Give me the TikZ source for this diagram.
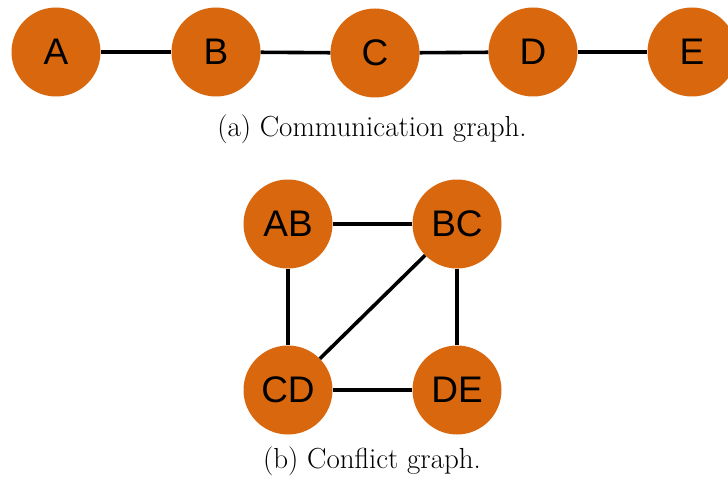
\documentclass[tikz,border=0pt]{standalone}
\usepackage{fontspec}
\usepackage{tikz}
\newfontfamily\lblfont{Liberation Sans}
\definecolor{vorange}{RGB}{217,103,14}
\tikzset{
  vertex/.style={circle,fill=vorange,minimum size=89pt,inner sep=0pt,
    font=\lblfont\fontsize{37}{40}\selectfont},
  edge/.style={line width=3.6pt,black},
  caption/.style={anchor=base,font=\fontsize{29}{32}\selectfont}
}

\begin{document}
\begin{tikzpicture}[x=1pt,y=1pt]
  \useasboundingbox (0,0) rectangle (728,483);
  % communication graph
  \node[vertex] (A) at ( 56,431) {A};
  \node[vertex] (B) at (216,431) {B};
  \node[vertex] (C) at (375,430) {C};
  \node[vertex] (D) at (533,431) {D};
  \node[vertex] (E) at (692,431) {E};
  \draw[edge] (A) -- (B);
  \draw[edge] (B) -- (C);
  \draw[edge] (C) -- (D);
  \draw[edge] (D) -- (E);
  \node[caption] (capa) at (372,346) {(a) Communication graph.};
  % conflict graph
  \node[vertex] (AB) at (288,259) {AB};
  \node[vertex] (BC) at (457,259) {BC};
  \node[vertex] (CD) at (288, 93) {CD};
  \node[vertex] (DE) at (457, 93) {DE};
  \draw[edge] (AB) -- (BC);
  \draw[edge] (AB) -- (CD);
  \draw[edge] (BC) -- (CD);
  \draw[edge] (BC) -- (DE);
  \draw[edge] (CD) -- (DE);
  \node[caption] (capb) at (372,15) {(b) Conflict graph.};
\end{tikzpicture}
\end{document}
